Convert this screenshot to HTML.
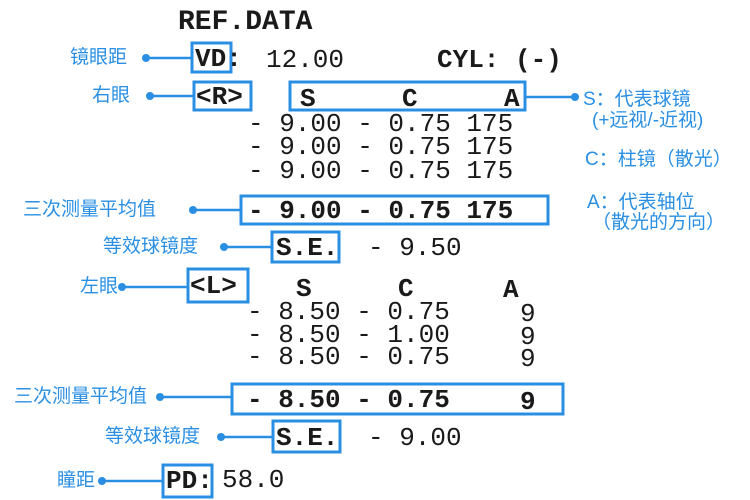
<!DOCTYPE html>
<html><head><meta charset="utf-8"><style>
body{margin:0;width:750px;height:500px;background:#fff;position:relative;overflow:hidden}
.t{position:absolute;font-family:"Liberation Mono",monospace;font-size:26px;color:#1a1a1a;line-height:1;white-space:pre}
.b{font-weight:bold}
.c{position:absolute;font-family:"Liberation Sans","Noto Sans CJK SC",sans-serif;font-size:19px;color:#2a8fe3;line-height:1;white-space:pre}
svg{position:absolute;left:0;top:0}
</style></head><body>
<svg width="750" height="500" fill="none" stroke="#2a8fe3" stroke-width="3">
<rect x="192" y="43" width="39" height="29"/>
<rect x="194" y="82" width="57" height="28"/>
<rect x="290" y="82" width="235" height="28"/>
<rect x="241" y="196" width="307" height="28"/>
<rect x="272" y="232" width="67" height="30"/>
<rect x="188" y="269" width="60" height="33"/>
<rect x="232" y="384" width="331" height="30"/>
<rect x="273" y="421" width="67" height="31"/>
<rect x="163" y="465" width="49" height="32"/>
<g stroke-width="2.5">
<line x1="146" y1="58" x2="192" y2="58"/>
<line x1="150" y1="96" x2="194" y2="96"/>
<line x1="193" y1="210" x2="241" y2="210"/>
<line x1="224" y1="247" x2="272" y2="247"/>
<line x1="122" y1="287" x2="188" y2="287"/>
<line x1="160" y1="397" x2="232" y2="397"/>
<line x1="221" y1="437" x2="273" y2="437"/>
<line x1="102" y1="481" x2="163" y2="481"/>
<line x1="525" y1="97" x2="575" y2="97"/>
</g>
<g fill="#2a8fe3" stroke="none">
<circle cx="146" cy="58" r="4"/><circle cx="150" cy="96" r="4"/><circle cx="193" cy="210" r="4"/>
<circle cx="224" cy="247" r="4"/><circle cx="122" cy="287" r="4"/><circle cx="160" cy="397" r="4"/>
<circle cx="221" cy="437" r="4"/><circle cx="102" cy="481" r="4"/><circle cx="575" cy="97" r="4"/>
</g></svg>

<div class="t b" style="left:178px;top:9px;font-size:28px">REF.DATA</div>
<div class="t b" style="left:195px;top:46px">VD:</div>
<div class="t" style="left:266px;top:47px">12.00</div>
<div class="t b" style="left:437px;top:47px">CYL: (-)</div>
<div class="t b" style="left:196px;top:84px">&lt;R&gt;</div>
<div class="t b" style="left:300px;top:86px">S</div>
<div class="t b" style="left:402px;top:86px">C</div>
<div class="t b" style="left:504px;top:86px">A</div>
<div class="t" style="left:248px;top:111px">- 9.00 - 0.75 175</div>
<div class="t" style="left:248px;top:134px">- 9.00 - 0.75 175</div>
<div class="t" style="left:248px;top:158px">- 9.00 - 0.75 175</div>
<div class="t b" style="left:248px;top:198px">- 9.00 - 0.75 175</div>
<div class="t b" style="left:276px;top:235px">S.E.</div>
<div class="t" style="left:368px;top:235px">- 9.50</div>
<div class="t b" style="left:190px;top:273px">&lt;L&gt;</div>
<div class="t b" style="left:296px;top:276px">S</div>
<div class="t b" style="left:398px;top:276px">C</div>
<div class="t b" style="left:503px;top:277px">A</div>
<div class="t" style="left:247px;top:299px">- 8.50 - 0.75</div><div class="t" style="left:520px;top:301px">9</div>
<div class="t" style="left:247px;top:322px">- 8.50 - 1.00</div><div class="t" style="left:520px;top:324px">9</div>
<div class="t" style="left:247px;top:344px">- 8.50 - 0.75</div><div class="t" style="left:520px;top:346px">9</div>
<div class="t b" style="left:247px;top:387px">- 8.50 - 0.75</div><div class="t b" style="left:520px;top:389px">9</div>
<div class="t b" style="left:276px;top:425px">S.E.</div>
<div class="t" style="left:368px;top:425px">- 9.00</div>
<div class="t b" style="left:166px;top:468px">PD:</div>
<div class="t" style="left:222px;top:467px">58.0</div>

<div class="c" style="left:70px;top:48px">镜眼距</div>
<div class="c" style="left:92px;top:86px">右眼</div>
<div class="c" style="left:23px;top:200px">三次测量平均值</div>
<div class="c" style="left:103px;top:237px">等效球镜度</div>
<div class="c" style="left:80px;top:277px">左眼</div>
<div class="c" style="left:14px;top:387px">三次测量平均值</div>
<div class="c" style="left:105px;top:427px">等效球镜度</div>
<div class="c" style="left:57px;top:471px">瞳距</div>
<div class="c" style="left:583px;top:90px">S：代表球镜</div>
<div class="c" style="left:592px;top:111px">(+远视/-近视)</div>
<div class="c" style="left:585px;top:150px">C：柱镜（散光）</div>
<div class="c" style="left:587px;top:193px">A：代表轴位</div>
<div class="c" style="left:592px;top:213px">（散光的方向）</div>
</body></html>
